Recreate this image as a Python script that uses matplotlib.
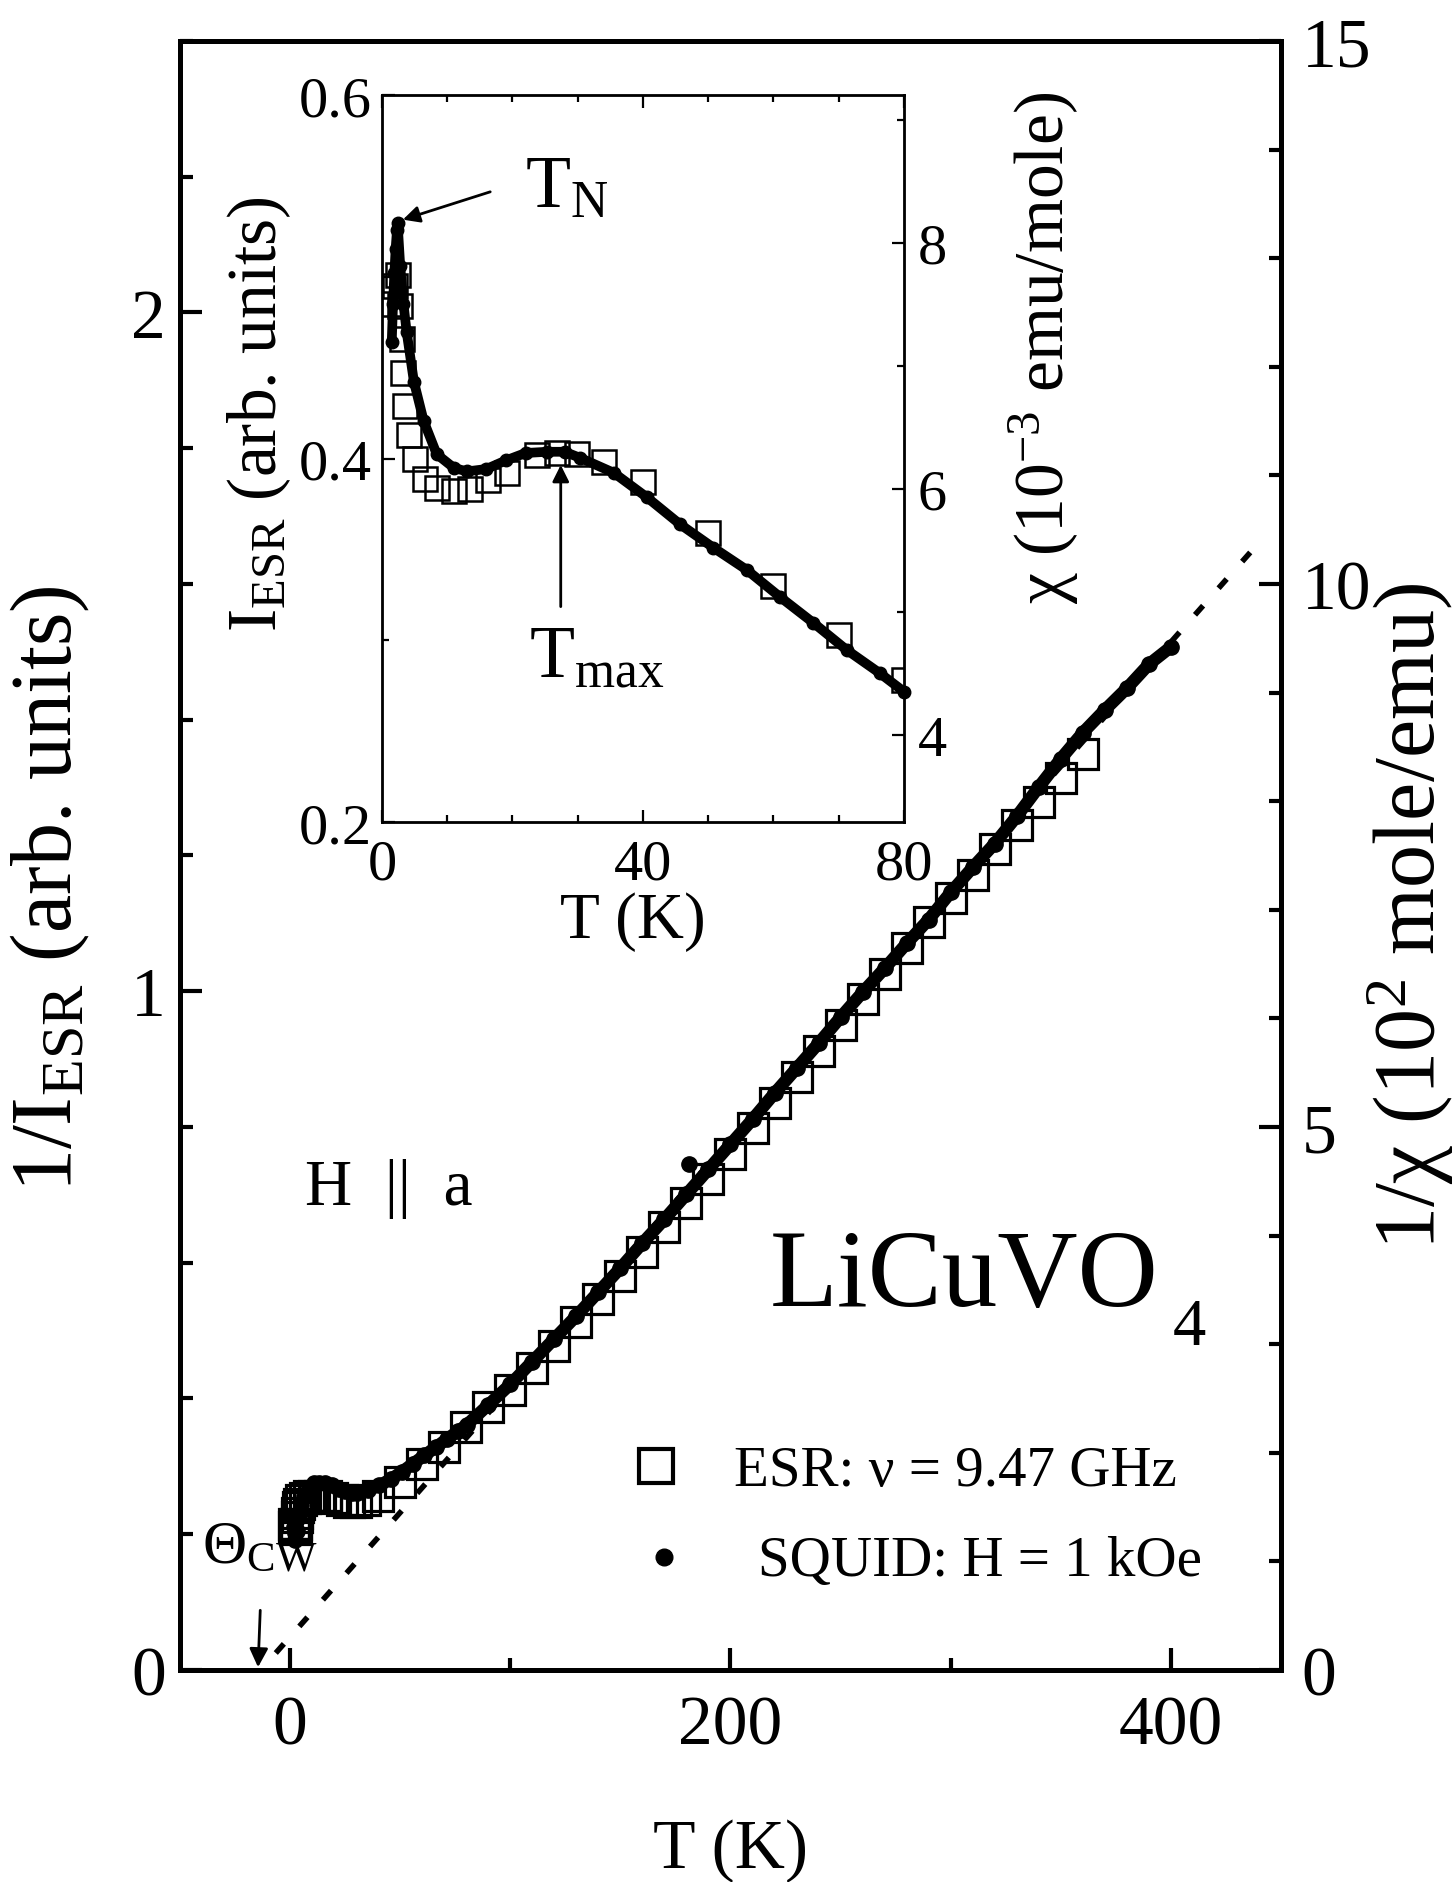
import matplotlib
matplotlib.use("Agg")
import matplotlib.pyplot as plt
from matplotlib.ticker import MultipleLocator

plt.rcParams['font.family'] = 'Liberation Serif'
plt.rcParams['mathtext.fontset'] = 'custom'
plt.rcParams['mathtext.rm'] = 'Liberation Serif'
plt.rcParams['mathtext.it'] = 'Liberation Serif:italic'
plt.rcParams['mathtext.default'] = 'rm'

# ---- main panel: ESR, 1/I_ESR (arb. units), left axis
t_esr = [1.6, 2.0, 2.5, 2.8, 3.1, 3.3, 3.6, 4.1, 5.1, 6.6, 8.4, 11, 13.5, 16.3,
         19.2, 23.8, 26.8, 29.9, 34, 40, 50, 60, 70, 80, 90, 100, 110, 120,
         130, 140, 150, 160, 170, 180, 190, 200, 210, 220, 230, 240, 250, 260,
         270, 280, 290, 300, 310, 320, 330, 340, 350, 360]
inv_i_esr = [0.215, 0.210, 0.208, 0.215, 0.225, 0.232, 0.240, 0.245, 0.250,
             0.253, 0.256, 0.257, 0.257, 0.256, 0.254, 0.250, 0.248, 0.247,
             0.250, 0.257, 0.277, 0.303, 0.328, 0.358, 0.387, 0.413, 0.445,
             0.478, 0.512, 0.546, 0.581, 0.616, 0.652, 0.688, 0.724, 0.760,
             0.798, 0.836, 0.874, 0.912, 0.950, 0.988, 1.026, 1.064, 1.102,
             1.137, 1.171, 1.210, 1.245, 1.279, 1.314, 1.350]

# ---- main panel: SQUID, 1/chi (10^2 mole/emu), right axis
t_squid = [1.5, 1.8, 2.1, 2.4, 3.0, 4.0, 5.0, 6.4, 8.4, 11, 13, 16, 19,
           22, 25, 28, 30.4, 35.5, 40.6, 45.7, 50.8, 55.9, 61, 66.1, 71.2,
           76.3, 80.4, 90, 100, 110, 120, 130, 140, 150, 160, 170, 180, 190,
           200, 210, 220, 230, 240, 250, 260, 270, 280, 290, 300, 310, 320,
           330, 340, 350, 360, 370, 380, 390, 400]
inv_chi = [1.40, 1.32, 1.26, 1.20, 1.28, 1.41, 1.52, 1.60, 1.68, 1.72,
           1.72, 1.72, 1.70, 1.67, 1.645, 1.63, 1.63, 1.655, 1.70, 1.756,
           1.825, 1.90, 1.975, 2.05, 2.125, 2.20, 2.26, 2.44, 2.63, 2.84,
           3.05, 3.26, 3.48, 3.70, 3.93, 4.15, 4.38, 4.61, 4.84, 5.07, 5.31,
           5.54, 5.77, 6.01, 6.24, 6.46, 6.69, 6.91, 7.16, 7.39, 7.61, 7.86,
           8.13, 8.39, 8.63, 8.84, 9.04, 9.26, 9.42]
t_squid_stray = [181]
inv_chi_stray = [4.66]

# Curie-Weiss extrapolation (left axis units)
t_cw = [-6.5, 437]
inv_cw = [0.025, 1.65]

# ---- inset: ESR intensity (left) and chi (10^-3 emu/mole, right)
t_in_esr = [1.6, 2.0, 2.5, 2.8, 3.1, 3.3, 3.6, 4.1, 5.1, 6.6, 8.4, 11, 13.5,
            16.3, 19.2, 23.8, 26.8, 29.9, 34, 40, 50, 60, 70, 80]
i_esr = [0.485, 0.495, 0.501, 0.484, 0.466, 0.447, 0.429, 0.413, 0.400,
         0.389, 0.384, 0.382, 0.383, 0.388, 0.392, 0.402, 0.403, 0.4025,
         0.398, 0.387, 0.359, 0.330, 0.303, 0.278]
t_in_chi = [1.5, 1.7, 1.9, 2.1, 2.3, 2.4, 2.8, 3.3, 3.8, 4.9, 6.4, 8.4, 11, 13,
            16, 19, 22, 25.3, 28, 30.4, 35.5, 40.6, 45.7, 50.8, 55.9, 61,
            66.1, 71.2, 76.3, 80]
chi = [7.19, 7.5, 7.75, 7.95, 8.1, 8.16, 7.81, 7.5, 7.27, 6.87, 6.55, 6.28,
       6.17, 6.14, 6.16, 6.23, 6.29, 6.30, 6.30, 6.25, 6.13, 5.93, 5.71, 5.52,
       5.34, 5.12, 4.91, 4.69, 4.50, 4.35]

fig = plt.figure(figsize=(14.55, 18.83), dpi=100)

# main axes
ax = fig.add_axes([0.1237, 0.1126, 0.7567, 0.8651])
axr = ax.twinx()
ax.set_xlim(-50, 450)
ax.set_ylim(0, 2.4)
axr.set_ylim(0, 15)

for s in ax.spines.values():
    s.set_linewidth(3.6)
ax.xaxis.set_major_locator(MultipleLocator(200))
ax.xaxis.set_minor_locator(MultipleLocator(100))
ax.yaxis.set_major_locator(MultipleLocator(1))
ax.yaxis.set_minor_locator(MultipleLocator(0.2))
axr.yaxis.set_major_locator(MultipleLocator(5))
axr.yaxis.set_minor_locator(MultipleLocator(1))
ax.tick_params(which='both', direction='in', width=3, labelsize=50, top=False, right=False)
ax.tick_params(which='major', length=16)
ax.tick_params(which='minor', length=9)
ax.tick_params(axis='x', pad=18)
ax.tick_params(axis='y', pad=10)
axr.tick_params(which='both', direction='in', width=3, labelsize=50, pad=15)
axr.tick_params(which='major', length=16)
axr.tick_params(which='minor', length=9)

ax.plot(t_cw, inv_cw, color='k', lw=4, dashes=(2.2, 4.2), zorder=1)
ax.plot(t_esr, inv_i_esr, ls='none', marker='s', ms=22, mfc='none', mec='k', mew=2.3, zorder=3)
axr.plot(t_squid, inv_chi, color='k', lw=9, marker='o', ms=11, solid_capstyle='round')
axr.plot(t_squid_stray, inv_chi_stray, ls='none', marker='o', ms=11, color='k')

ax.set_xlabel('T (K)', fontsize=50, va='center')
ax.xaxis.set_label_coords(0.5, -0.111)
ax.set_ylabel(r'1/I$_\mathrm{ESR}$ (arb. units)', fontsize=62, va='center')
ax.yaxis.set_label_coords(-0.118, 0.48)
axr.set_ylabel(r'1/χ (10$^\mathrm{2}$ mole/emu)', fontsize=62, va='center')
axr.yaxis.set_label_coords(1.117, 0.463)

# text annotations in main
ax.text(7, 0.687, 'H  ||  a', fontsize=47, ha='left', va='baseline')
ax.text(218, 0.537, 'LiCuVO', fontsize=80, ha='left', va='baseline')
ax.text(401, 0.48, '4', fontsize=48, ha='left', va='baseline')
ax.plot([166], [0.300], ls='none', marker='s', ms=25, mfc='none', mec='k', mew=3)
ax.text(201.6, 0.272, 'ESR: ν = 9.47 GHz', fontsize=41, ha='left', va='baseline')
ax.plot([170], [0.166], ls='none', marker='o', ms=12, color='k')
ax.text(212.5, 0.140, 'SQUID: H = 1 kOe', fontsize=41, ha='left', va='baseline')
ax.text(-40, 0.159, r'Θ$_\mathrm{CW}$', fontsize=44, ha='left', va='baseline')
ax.annotate('', xy=(-14.6, 0.0), xytext=(-13.5, 0.092),
            arrowprops=dict(arrowstyle='-|>', color='k', lw=2, mutation_scale=28))

# inset
ins = fig.add_axes([0.2625, 0.5629, 0.3588, 0.3861])
insr = ins.twinx()
ins.set_xlim(0, 80)
ins.set_ylim(0.2, 0.6)
insr.set_ylim(3.29, 9.2)
for s in ins.spines.values():
    s.set_linewidth(2)
ins.xaxis.set_major_locator(MultipleLocator(40))
ins.xaxis.set_minor_locator(MultipleLocator(10))
ins.yaxis.set_major_locator(MultipleLocator(0.2))
ins.yaxis.set_minor_locator(MultipleLocator(0.1))
insr.yaxis.set_major_locator(MultipleLocator(2))
insr.yaxis.set_minor_locator(MultipleLocator(1))
ins.tick_params(which='both', direction='in', width=1.6, labelsize=42, top=True, right=False)
ins.tick_params(which='major', length=9)
ins.tick_params(which='minor', length=5)
ins.tick_params(axis='x', pad=12)
ins.tick_params(axis='y', pad=7)
insr.tick_params(which='both', direction='in', width=1.6, labelsize=42, pad=10)
insr.tick_params(which='major', length=9)
insr.tick_params(which='minor', length=5)

ins.plot(t_in_esr, i_esr, ls='none', marker='s', ms=17, mfc='none', mec='k', mew=1.8)
insr.plot(t_in_chi, chi, color='k', lw=7, marker='o', ms=9, solid_capstyle='round',
          clip_on=False)

ins.set_xlabel('T (K)', fontsize=47, va='center')
ins.xaxis.set_label_coords(0.48, -0.137)
ins.set_ylabel(r'I$_\mathrm{ESR}$ (arb. units)', fontsize=50, va='center')
ins.yaxis.set_label_coords(-0.235, 0.563)
insr.set_ylabel(r'χ (10$^\mathrm{-3}$ emu/mole)', fontsize=50, va='center')
insr.yaxis.set_label_coords(1.268, 0.653)

insr.text(21.9, 8.29, r'T$_\mathrm{N}$', fontsize=53, ha='left', va='baseline')
insr.annotate('', xy=(2.8, 8.18), xytext=(17, 8.42),
              arrowprops=dict(arrowstyle='-|>', color='k', lw=2, mutation_scale=25))
ins.text(22.5, 0.28, r'T$_\mathrm{max}$', fontsize=53, ha='left', va='baseline')
ins.annotate('', xy=(27.4, 0.398), xytext=(27.4, 0.317),
             arrowprops=dict(arrowstyle='-|>', color='k', lw=2, mutation_scale=25))

fig.savefig('out.png', dpi=100)
